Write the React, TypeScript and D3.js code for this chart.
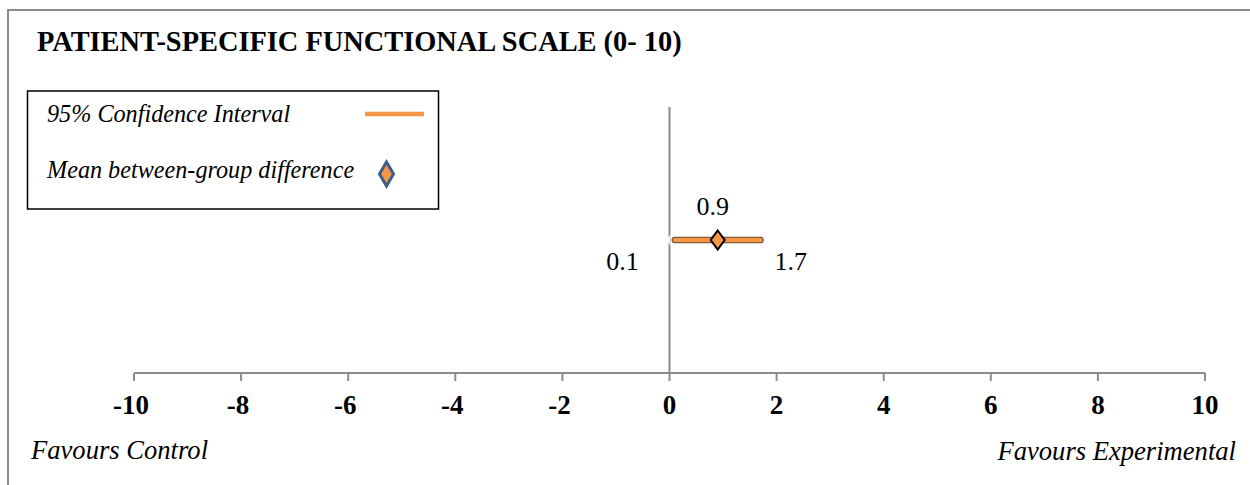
import React from "react";
import * as d3 from "d3";

const categories = ["Patient-Specific Functional Scale"];
const meanDiff = [0.9];
const ciLower = [0.1];
const ciUpper = [1.7];
const xTicks = [-10, -8, -6, -4, -2, 0, 2, 4, 6, 8, 10];
const title = "PATIENT-SPECIFIC FUNCTIONAL SCALE (0- 10)";
const legendItems = ["95% Confidence Interval", "Mean between-group difference"];
const leftLabel = "Favours Control";
const rightLabel = "Favours Experimental";

const W = 1250;
const H = 485;
const ORANGE = "#f79646";
const GRAY = "#8c8c8c";
const FONT = "Liberation Serif, Times New Roman, Times, DejaVu Serif, serif";

export default function App() {
  const x = d3.scaleLinear().domain([-10, 10]).range([134, 1205]);
  const y = d3.scaleLinear().domain([0, 2]).range([373, 107]);
  const axisY = y(0);

  const diamond = (cx: number, cy: number, hw: number, hh: number) =>
    `M${cx},${cy - hh}L${cx + hw},${cy}L${cx},${cy + hh}L${cx - hw},${cy}Z`;

  const ts = { fontFamily: FONT } as React.CSSProperties;

  return (
    <svg
      width={W}
      height={H}
      style={{ position: "absolute", left: 0, top: 0, display: "block", background: "#fff", fontFamily: FONT }}
    >
      <rect x={0} y={0} width={W} height={H} fill="#fff" />
      {/* outer frame */}
      <path d={`M8,${H + 5}V10H${W + 5}`} fill="none" stroke={GRAY} strokeWidth={2} />

      {/* title */}
      <text x={37} y={51} fontSize={28.4} fontWeight="bold" fill="#000" style={ts}>
        {title}
      </text>

      {/* legend */}
      <rect x={27.5} y={91} width={411} height={118} fill="#fff" stroke="#000" strokeWidth={1.5} />
      <text x={47} y={122} fontSize={24.2} fontStyle="italic" fill="#000" style={ts}>
        {legendItems[0]}
      </text>
      <line x1={365} x2={424} y1={114} y2={114} stroke={ORANGE} strokeWidth={4.5} />
      <text x={47} y={178} fontSize={24.2} fontStyle="italic" fill="#000" style={ts}>
        {legendItems[1]}
      </text>
      <path d={diamond(386.5, 174, 7, 12)} fill={ORANGE} stroke="#3b5f8a" strokeWidth={3} />

      {/* vertical zero line */}
      <line x1={x(0)} x2={x(0)} y1={y(2)} y2={axisY} stroke={GRAY} strokeWidth={2} />

      {/* x axis */}
      <line x1={x(-10)} x2={x(10)} y1={axisY} y2={axisY} stroke={GRAY} strokeWidth={2} />
      {xTicks.map((t) => (
        <g key={t}>
          <line x1={x(t)} x2={x(t)} y1={axisY} y2={axisY + 8} stroke={GRAY} strokeWidth={2} />
          <text
            x={x(t) + (t < 0 ? -3 : 0)}
            y={414}
            fontSize={27}
            fontWeight="bold"
            textAnchor="middle"
            fill="#000"
            style={ts}
          >
            {t}
          </text>
        </g>
      ))}

      {/* data */}
      {categories.map((c, i) => {
        const cy = y(1);
        return (
          <g key={c}>
            <circle cx={x(ciLower[i]) - 1} cy={cy} r={5} fill="none" stroke="#fff" strokeWidth={2} />
            <line
              x1={x(ciLower[i])}
              x2={x(ciUpper[i])}
              y1={cy}
              y2={cy}
              stroke="#6b4a2e"
              strokeWidth={6.5}
              strokeLinecap="round"
            />
            <line
              x1={x(ciLower[i])}
              x2={x(ciUpper[i])}
              y1={cy}
              y2={cy}
              stroke={ORANGE}
              strokeWidth={4.5}
              strokeLinecap="round"
            />
            <path d={diamond(x(meanDiff[i]), cy, 7, 9.5)} fill={ORANGE} stroke="#000" strokeWidth={2} />
            <text x={x(meanDiff[i]) - 5} y={215} fontSize={26} textAnchor="middle" fill="#000" style={ts}>
              {meanDiff[i]}
            </text>
            <text x={x(ciLower[i]) - 36} y={270} fontSize={26} textAnchor="end" fill="#000" style={ts}>
              {ciLower[i]}
            </text>
            <text x={x(ciUpper[i]) + 14} y={270} fontSize={26} textAnchor="start" fill="#000" style={ts}>
              {ciUpper[i]}
            </text>
          </g>
        );
      })}

      {/* direction labels */}
      <text x={31} y={459} fontSize={26.6} fontStyle="italic" fill="#000" style={ts}>
        {leftLabel}
      </text>
      <text x={1236} y={460} fontSize={26.6} fontStyle="italic" textAnchor="end" fill="#000" style={ts}>
        {rightLabel}
      </text>
    </svg>
  );
}
